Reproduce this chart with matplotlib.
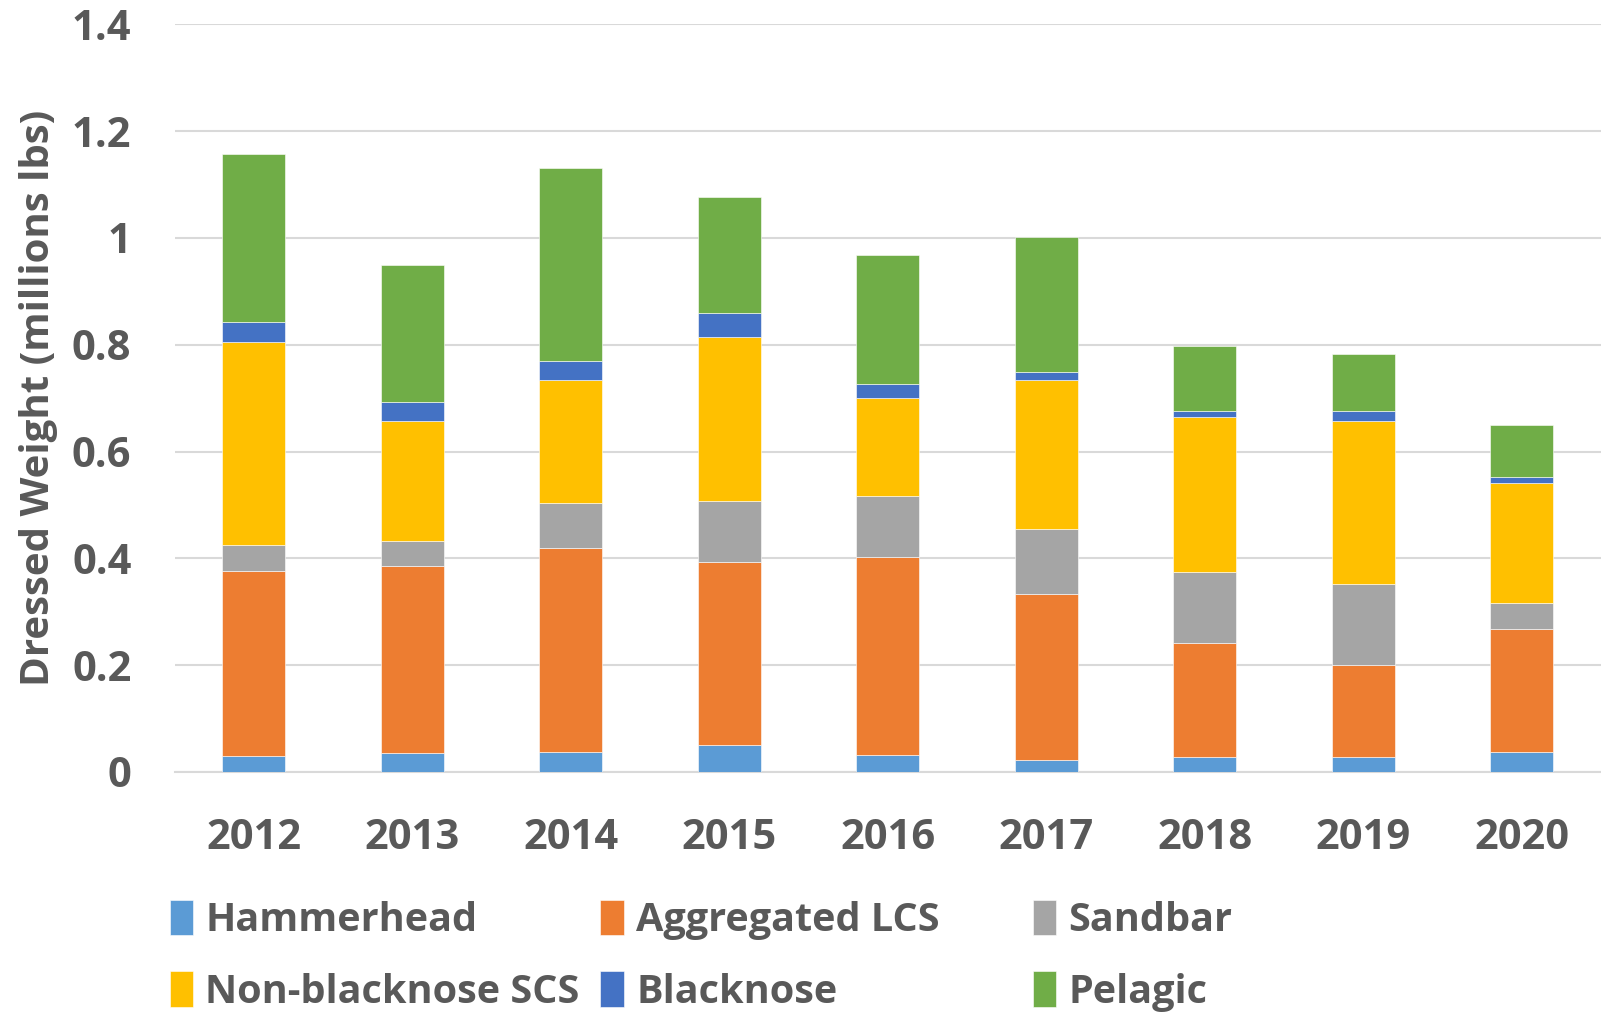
import numpy as np
from matplotlib import pyplot as plt

# Cumulative tops (millions lbs), bottom to top
years = ["2012", "2013", "2014", "2015", "2016", "2017", "2018", "2019", "2020"]
hammerhead_top = [0.029, 0.035, 0.038, 0.050, 0.031, 0.022, 0.028, 0.027, 0.038]
lcs_top = [0.377, 0.386, 0.420, 0.394, 0.402, 0.333, 0.241, 0.201, 0.267]
sandbar_top = [0.424, 0.433, 0.503, 0.507, 0.517, 0.454, 0.374, 0.352, 0.316]
scs_top = [0.806, 0.657, 0.733, 0.815, 0.700, 0.733, 0.665, 0.658, 0.541]
blacknose_top = [0.843, 0.692, 0.770, 0.860, 0.726, 0.749, 0.676, 0.676, 0.552]
pelagic_top = [1.157, 0.950, 1.131, 1.076, 0.968, 1.001, 0.798, 0.782, 0.650]

series_names = ["Hammerhead", "Aggregated LCS", "Sandbar",
                "Non-blacknose SCS", "Blacknose", "Pelagic"]
colors = ["#5B9BD5", "#ED7D31", "#A5A5A5", "#FFC000", "#4472C4", "#70AD47"]

tops = np.array([hammerhead_top, lcs_top, sandbar_top,
                 scs_top, blacknose_top, pelagic_top])
segments = np.diff(np.vstack([np.zeros(len(years)), tops]), axis=0)

text_color = "#595959"
plt.rcParams['font.family'] = ['Open Sans', 'DejaVu Sans']
plt.rcParams['font.weight'] = 'bold'

fig = plt.figure(figsize=(16.01, 10.13), dpi=100)
ax = fig.add_axes([0.109, 0.238, 0.891, 0.738])

x = np.arange(len(years))
bottom = np.zeros(len(years))
handles = []
for name, seg, c in zip(series_names, segments, colors):
    b = ax.bar(x, seg, 0.4, bottom=bottom, color=c, label=name,
               edgecolor="white", linewidth=0.4, zorder=3)
    handles.append(b)
    bottom += seg

ax.set_xlim(-0.5, len(years) - 0.5)
ax.set_ylim(0, 1.4)
ax.set_yticks(np.arange(0, 1.41, 0.2))
ax.set_yticklabels(["0", "0.2", "0.4", "0.6", "0.8", "1", "1.2", "1.4"])
ax.set_xticks(x)
ax.set_xticklabels(years)
ax.yaxis.grid(True, color="#D9D9D9", linewidth=1.5, zorder=0)
for s in ["top", "right", "left"]:
    ax.spines[s].set_visible(False)
ax.spines["bottom"].set_color("#D9D9D9")
ax.spines["bottom"].set_linewidth(1.5)
ax.tick_params(axis="both", length=0, labelsize=30, colors=text_color)
ax.tick_params(axis="x", pad=33)
ax.tick_params(axis="y", pad=31)
ax.set_ylabel("Dressed Weight (millions lbs)", fontsize=29, color=text_color,
              fontweight="bold")
ax.yaxis.set_label_coords(-0.082, 0.5)

# one legend per column, two rows each, like the original layout
col_x = [0.106, 0.375, 0.645]
for k, cx in enumerate(col_x):
    idx = [k, k + 3]
    leg = fig.legend([handles[i] for i in idx], [series_names[i] for i in idx],
                     loc="upper left", bbox_to_anchor=(cx, 0.112),
                     frameon=False, fontsize=28.5, borderpad=0, borderaxespad=0,
                     handlelength=0.6, handleheight=1.0,
                     handletextpad=0.3, labelspacing=0.8)
    for t in leg.get_texts():
        t.set_color(text_color)

fig.savefig("out.png", dpi=100)
